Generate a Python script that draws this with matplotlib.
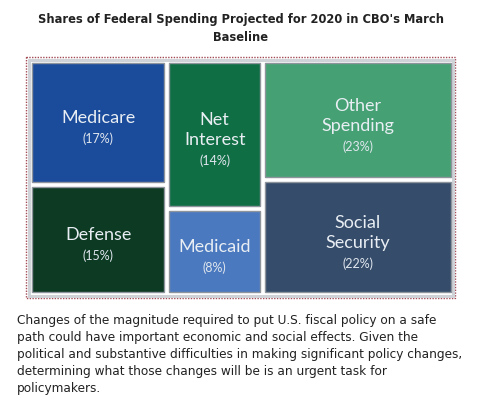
import matplotlib
matplotlib.use("Agg")
import matplotlib.pyplot as plt
from matplotlib.patches import Rectangle

# Data: shares of federal spending (%) grouped into the three treemap columns
column_names = [
    ["Medicare", "Defense"],
    ["Net\nInterest", "Medicaid"],
    ["Other\nSpending", "Social\nSecurity"],
]
column_shares = [
    [17, 15],
    [14, 8],
    [23, 22],
]
column_colors = [
    ["#1b4b9b", "#0c3a23"],
    ["#106e44", "#4a79bf"],
    ["#45a173", "#364c6b"],
]

title = "Shares of Federal Spending Projected for 2020 in CBO's March\nBaseline"
caption = ("Changes of the magnitude required to put U.S. fiscal policy on a safe\n"
           "path could have important economic and social effects. Given the\n"
           "political and substantive difficulties in making significant policy changes,\n"
           "determining what those changes will be is an urgent task for\n"
           "policymakers.")

W, H = 481, 404
fig = plt.figure(figsize=(W / 100, H / 100), dpi=100)
ax = fig.add_axes([0, 0, 1, 1])
ax.set_xlim(0, W)
ax.set_ylim(H, 0)
ax.axis("off")

# Title
ax.text(241, 28.5, title, ha="center", va="center", fontsize=8.3, fontweight="bold",
        color="#222222", family="DejaVu Sans", linespacing=1.5)

# Dotted frame around the treemap
ax.add_patch(Rectangle((26, 56.5), 429.5, 241, fill=False, edgecolor="#a34a55",
                       linestyle=(0, (1, 1)), linewidth=1.0))
# Light grey frame of the picture
ax.add_patch(Rectangle((29.5, 60), 423.5, 235.5, facecolor="white",
                       edgecolor="#cfd3d8", linewidth=2.2))

# Treemap layout
x0, x1 = 32, 451
y0, y1 = 63, 292
gap = 5
total = sum(sum(c) for c in column_shares)
avail_w = (x1 - x0) - gap * (len(column_shares) - 1)
x = x0
for names, shares, colors in zip(column_names, column_shares, column_colors):
    col_w = avail_w * sum(shares) / total
    avail_h = (y1 - y0) - gap * (len(shares) - 1)
    y = y0
    for name, share, color in zip(names, shares, colors):
        cell_h = avail_h * share / sum(shares)
        ax.add_patch(Rectangle((x, y), col_w, cell_h, facecolor=color,
                               edgecolor="#8d949c", linewidth=1.0))
        cx = x + col_w / 2
        lines = name.split("\n")
        # block of name lines (20 px apart) plus the share 21 px below
        block = 20 * (len(lines) - 1) + 21
        top = y + cell_h / 2 + 6 - block / 2
        for i, line in enumerate(lines):
            ax.text(cx, top + 20 * i, line, ha="center", va="center",
                    fontsize=13, color="#e8eef3", family="Lato")
        ax.text(cx, top + block, f"({share}%)", ha="center", va="center",
                fontsize=9, color="#dfe6ee", family="Lato")
        y += cell_h + gap
    x += col_w + gap

# Caption
ax.text(17, 314, caption, ha="left", va="top", fontsize=8.7, color="#222222",
        family="DejaVu Sans", linespacing=1.39)

fig.savefig("out.png", dpi=100)
